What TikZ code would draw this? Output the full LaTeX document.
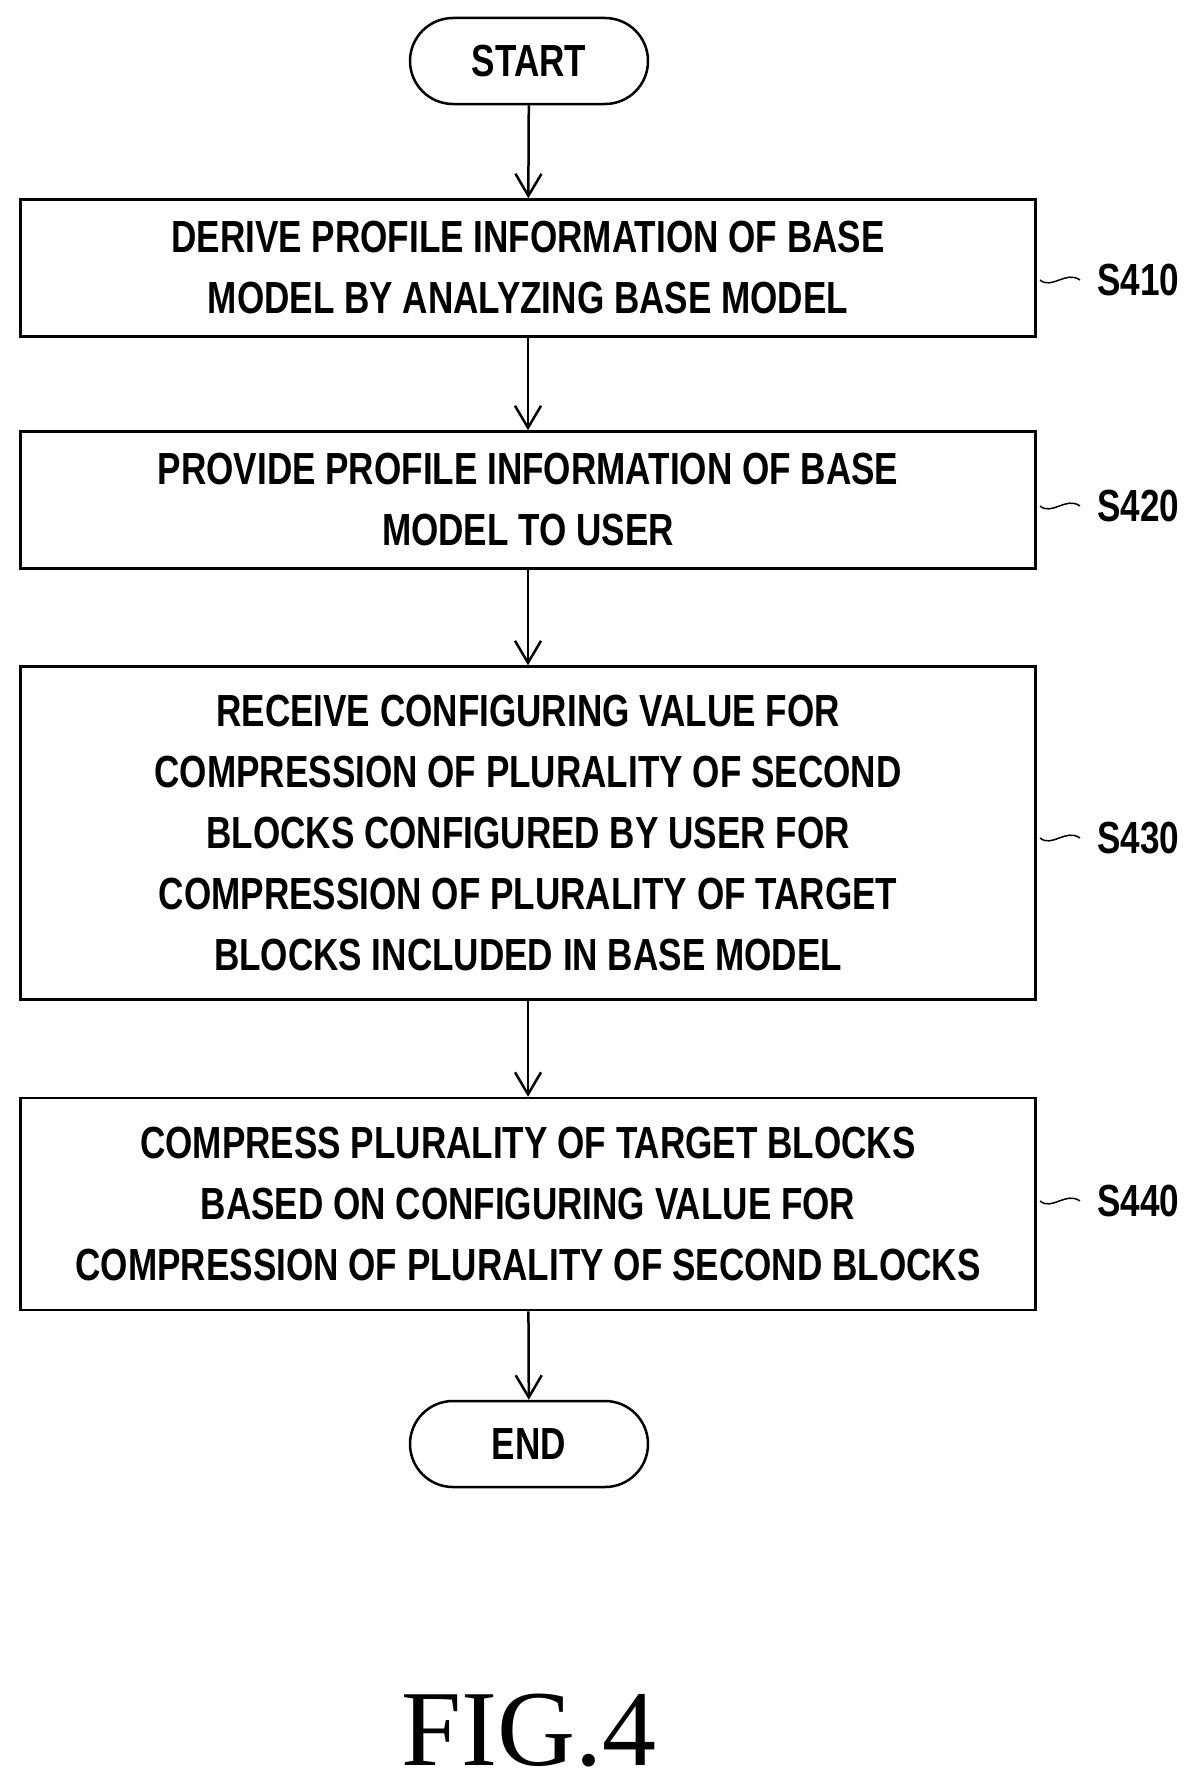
\documentclass[tikz,border=0pt]{standalone}
\usepackage{fontspec}
\setmainfont{Liberation Serif}
\newfontfamily\cond[FakeStretch=0.78]{Liberation Sans}
\usetikzlibrary{arrows.meta}
\begin{document}
\begin{tikzpicture}[x=1pt,y=-1pt,
  txt/.style={font=\cond\fontsize{45}{61}\selectfont\bfseries},
  box/.style={txt,draw,line width=2.5pt,minimum width=1015pt,align=center,inner sep=0pt},
  term/.style={txt,draw,line width=2.5pt,rounded corners=43pt,minimum width=238pt,minimum height=86pt,inner sep=0pt},
  arr/.style={line width=2.5pt,-{Straight Barb[length=22pt,width=26pt,line width=2.5pt]}},
  lab/.style={txt,anchor=west,inner sep=0pt},
  tild/.style={line width=1.5pt}]
\useasboundingbox (0,0) rectangle (1202,1785);
\node[term] (start) at (529,61) {START};
\node[box,minimum height=137pt] (b1) at (528,268) {DERIVE PROFILE INFORMATION OF BASE\\MODEL BY ANALYZING BASE MODEL};
\node[box,minimum height=137pt] (b2) at (528,500) {PROVIDE PROFILE INFORMATION OF BASE\\MODEL TO USER};
\node[box,minimum height=333pt] (b3) at (528,833) {RECEIVE CONFIGURING VALUE FOR\\COMPRESSION OF PLURALITY OF SECOND\\BLOCKS CONFIGURED BY USER FOR\\COMPRESSION OF PLURALITY OF TARGET\\BLOCKS INCLUDED IN BASE MODEL};
\node[box,minimum height=212pt] (b4) at (528,1204) {COMPRESS PLURALITY OF TARGET BLOCKS\\BASED ON CONFIGURING VALUE FOR\\COMPRESSION OF PLURALITY OF SECOND BLOCKS};
\node[term] (end) at (529,1444) {END};
\node[font=\fontsize{108}{110}\selectfont,inner sep=0pt] (fig) at (529,1730) {FIG.4};
\draw[arr] (start) -- (b1);
\draw[arr] (b1) -- (b2);
\draw[arr] (b2) -- (b3);
\draw[arr] (b3) -- (b4);
\draw[arr] (b4) -- (end);
\foreach \b/\t/\y in {b1/S410/280, b2/S420/506, b3/S430/838, b4/S440/1201}{
  \node[lab] (l\b) at (1097,\y) {\t};
  \draw[tild] (1040,\y) .. controls (1052,\y+10) and (1066,\y-10) .. (1080,\y);
}
\end{tikzpicture}
\end{document}
